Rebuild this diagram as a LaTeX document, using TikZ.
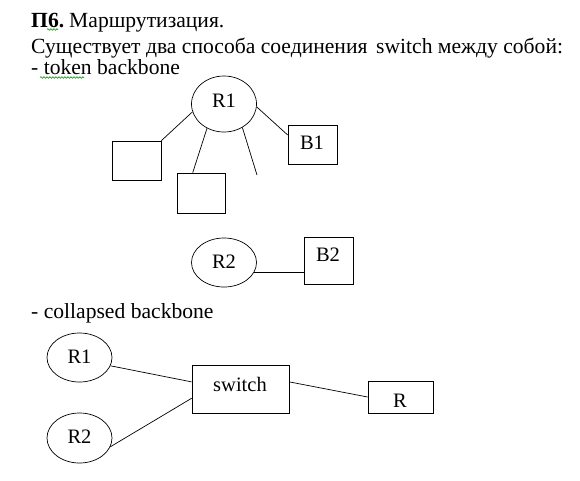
\documentclass[tikz,border=0pt]{standalone}
\usepackage{fontspec}
\setmainfont{Liberation Serif}
\usetikzlibrary{shapes.geometric,calc,decorations.pathmorphing}
\begin{document}
\begin{tikzpicture}[x=1pt,y=-1pt,
  txt/.style={anchor=base west,inner sep=0pt,font=\fontsize{21.6}{24}\selectfont},
  lbl/.style={font=\fontsize{20.5}{23}\selectfont},
  ell/.style={ellipse,draw,line width=0.7pt,inner sep=0pt},
  boxn/.style={draw,line width=0.7pt,inner sep=0pt},
  conn/.style={line width=0.7pt},
  spell/.style={draw=green!55!black,line width=0.6pt,decorate,decoration={snake,amplitude=0.8pt,segment length=3pt}}]
\useasboundingbox (0,0) rectangle (580,480);

% header text
\node[txt] (t1) at (31,27) {\textbf{П6.}\hspace{-0.1em} Маршрутизация.};
\node[txt] (t2) at (31,53) {Существует два способа соединения\hspace{0.4em}switch между собой:};
\node[txt] (t3) at (31,74.5) {- token backbone};
\draw[spell] (47,29.5) -- (58,29.5);
\draw[spell] (40,77.5) -- (84,77.5);

% token backbone
\node[ell,minimum width=65,minimum height=56] (r1) at (224,104) {};
\node[lbl] at (224,101) {R1};
\node[boxn,minimum width=49,minimum height=39] (bl) at (136.5,160.5) {};
\node[boxn,minimum width=48,minimum height=40] (bm) at (201,193) {};
\node[boxn,minimum width=49,minimum height=39] (b1) at (312.5,144.5) {};
\node[lbl] at (312,143) {B1};
\coordinate (free) at (257,175);
\draw[conn] (r1.194) -- (bl.north east);
\draw[conn] (r1.235) -- ($(bm.north west)!0.33!(bm.north east)$);
\draw[conn] (r1.308) -- (free);
\draw[conn] (r1.355) -- ($(b1.north west)!0.26!(b1.south west)$);

\node[ell,minimum width=65,minimum height=49] (r2) at (224,262.5) {};
\node[lbl] at (224,262) {R2};
\node[boxn,minimum width=49,minimum height=47] (b2) at (328.5,260.5) {};
\node[lbl] at (328,255) {B2};
\draw[conn] (r2.-19) -- (r2.-19 -| b2.west);

% collapsed backbone
\node[txt] (t4) at (31,318.5) {- collapsed backbone};
\node[ell,minimum width=65,minimum height=49] (c1) at (79.5,357.5) {};
\node[lbl] at (79.5,357) {R1};
\node[ell,minimum width=65,minimum height=50] (c2) at (79.5,438) {};
\node[lbl] at (79.5,437) {R2};
\node[boxn,minimum width=97,minimum height=48] (sw) at (240.5,389) {};
\node[lbl] at (240,384) {switch};
\node[boxn,minimum width=65,minimum height=32] (rr) at (400.5,397) {};
\node[lbl] at (400,401) {R};
\draw[conn] (c1.-15) -- ($(sw.north west)!0.354!(sw.south west)$);
\draw[conn] (c2.-16) -- ($(sw.north west)!0.69!(sw.south west)$);
\draw[conn] ($(sw.north east)!0.354!(sw.south east)$) -- (rr.west);
\end{tikzpicture}
\end{document}
